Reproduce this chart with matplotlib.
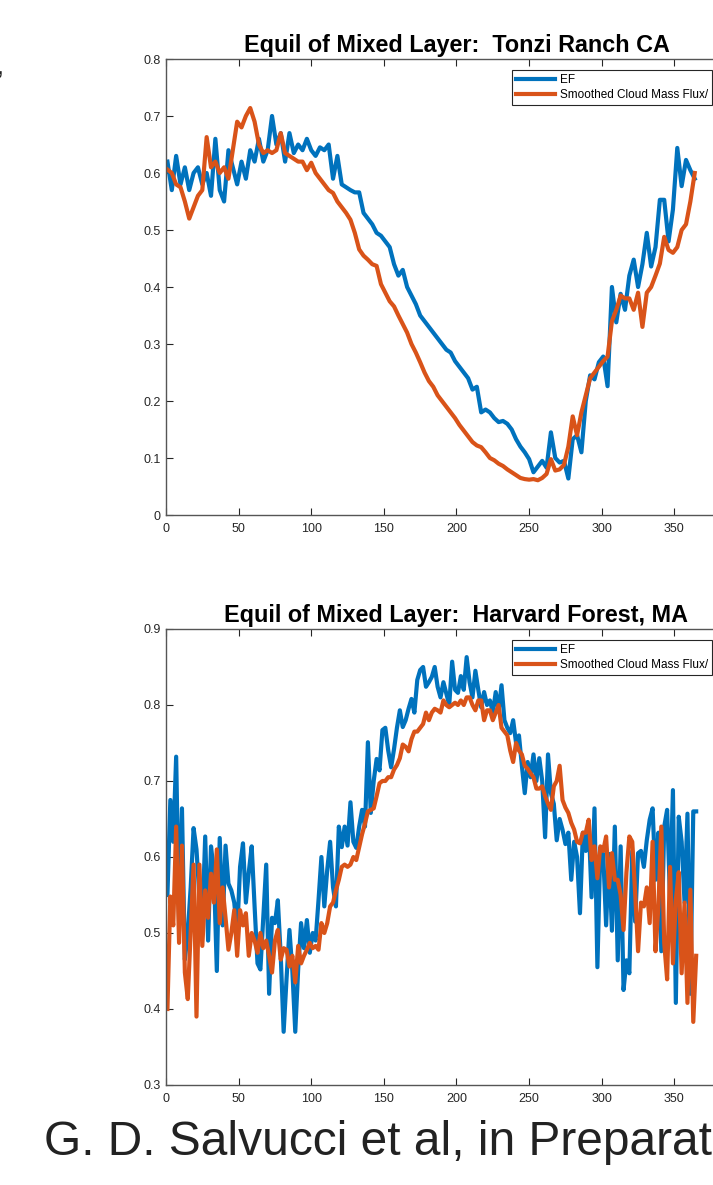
import numpy as np
import matplotlib
matplotlib.use("Agg")
import matplotlib.pyplot as plt
from matplotlib import font_manager

plt.rcParams['font.family'] = ['Liberation Sans', 'DejaVu Sans']

# Tonzi Ranch CA, every 3rd day starting day 1
tonzi_ef = [
    0.62, 0.57, 0.63, 0.58, 0.61, 0.57, 0.60, 0.61, 0.58, 0.60,
    0.56, 0.66, 0.57, 0.55, 0.64, 0.61, 0.58, 0.62, 0.59, 0.64,
    0.62, 0.66, 0.62, 0.64, 0.70, 0.65, 0.67, 0.62, 0.67, 0.635,
    0.65, 0.64, 0.66, 0.64, 0.63, 0.645, 0.64, 0.65, 0.59, 0.63,
    0.58, 0.575, 0.57, 0.566, 0.566, 0.53, 0.52, 0.51, 0.495, 0.49,
    0.48, 0.47, 0.44, 0.42, 0.43, 0.40, 0.385, 0.37, 0.35, 0.34,
    0.33, 0.32, 0.31, 0.30, 0.29, 0.285, 0.27, 0.26, 0.25, 0.24,
    0.22, 0.225, 0.18, 0.185, 0.18, 0.17, 0.163, 0.165, 0.16, 0.15,
    0.133, 0.12, 0.11, 0.098, 0.075, 0.085, 0.095, 0.083, 0.145, 0.10,
    0.092, 0.095, 0.064, 0.133, 0.14, 0.11, 0.20, 0.245, 0.238, 0.268,
    0.278, 0.226, 0.40, 0.338, 0.388, 0.36, 0.42, 0.448, 0.40, 0.44,
    0.495, 0.436, 0.47, 0.553, 0.553, 0.48, 0.536, 0.644, 0.577, 0.623,
    0.605, 0.59,
]
tonzi_cmf = [
    0.606, 0.60, 0.58, 0.575, 0.55, 0.52, 0.54, 0.56, 0.57, 0.663,
    0.61, 0.62, 0.60, 0.61, 0.59, 0.64, 0.69, 0.68, 0.70, 0.714,
    0.69, 0.65, 0.635, 0.64, 0.635, 0.64, 0.67, 0.635, 0.63, 0.625,
    0.62, 0.62, 0.605, 0.618, 0.60, 0.59, 0.58, 0.57, 0.565, 0.55,
    0.54, 0.53, 0.518, 0.495, 0.466, 0.455, 0.448, 0.44, 0.437, 0.405,
    0.39, 0.375, 0.366, 0.35, 0.335, 0.32, 0.30, 0.285, 0.268, 0.25,
    0.235, 0.225, 0.21, 0.20, 0.19, 0.18, 0.17, 0.158, 0.148, 0.138,
    0.128, 0.122, 0.119, 0.11, 0.10, 0.096, 0.09, 0.086, 0.08, 0.075,
    0.07, 0.065, 0.063, 0.062, 0.063, 0.061, 0.065, 0.072, 0.098, 0.078,
    0.08, 0.088, 0.12, 0.173, 0.14, 0.18, 0.21, 0.24, 0.25, 0.26,
    0.27, 0.278, 0.34, 0.36, 0.385, 0.38, 0.38, 0.36, 0.39, 0.33,
    0.39, 0.40, 0.42, 0.441, 0.488, 0.465, 0.46, 0.47, 0.50, 0.51,
    0.55, 0.60,
]

# Harvard Forest, MA, every 2nd day starting day 1
harvard_ef = [
    0.55, 0.675, 0.62, 0.732, 0.517, 0.664, 0.465, 0.50, 0.56, 0.638,
    0.61, 0.548, 0.513, 0.627, 0.49, 0.614, 0.58, 0.45, 0.625, 0.51,
    0.615, 0.565, 0.556, 0.54, 0.50, 0.587, 0.618, 0.54, 0.58, 0.614,
    0.535, 0.46, 0.452, 0.52, 0.59, 0.42, 0.52, 0.513, 0.543, 0.47,
    0.37, 0.44, 0.504, 0.45, 0.37, 0.452, 0.513, 0.48, 0.517, 0.474,
    0.50, 0.49, 0.543, 0.60, 0.535, 0.583, 0.62, 0.56, 0.535, 0.64,
    0.613, 0.64, 0.615, 0.672, 0.62, 0.612, 0.64, 0.662, 0.64, 0.751,
    0.658, 0.70, 0.729, 0.714, 0.767, 0.77, 0.74, 0.718, 0.742, 0.77,
    0.793, 0.771, 0.78, 0.795, 0.808, 0.79, 0.833, 0.846, 0.85, 0.824,
    0.83, 0.837, 0.85, 0.824, 0.81, 0.83, 0.815, 0.80, 0.857, 0.82,
    0.816, 0.838, 0.82, 0.863, 0.83, 0.81, 0.845, 0.82, 0.797, 0.817,
    0.80, 0.806, 0.79, 0.817, 0.793, 0.826, 0.78, 0.77, 0.763, 0.78,
    0.75, 0.76, 0.72, 0.684, 0.725, 0.705, 0.735, 0.70, 0.73, 0.70,
    0.626, 0.735, 0.684, 0.67, 0.622, 0.65, 0.636, 0.617, 0.632, 0.57,
    0.62, 0.60, 0.526, 0.632, 0.608, 0.645, 0.547, 0.664, 0.455, 0.61,
    0.604, 0.51, 0.604, 0.503, 0.64, 0.464, 0.614, 0.425, 0.464, 0.447,
    0.608, 0.515, 0.605, 0.608, 0.587, 0.622, 0.649, 0.664, 0.57, 0.632,
    0.476, 0.64, 0.662, 0.544, 0.688, 0.408, 0.653, 0.62, 0.54, 0.657,
    0.42, 0.66, 0.66,
]
harvard_cmf = [
    0.40, 0.548, 0.51, 0.64, 0.487, 0.615, 0.448, 0.413, 0.50, 0.59,
    0.39, 0.59, 0.483, 0.556, 0.52, 0.578, 0.54, 0.61, 0.513, 0.56,
    0.52, 0.478, 0.50, 0.53, 0.47, 0.53, 0.51, 0.526, 0.47, 0.50,
    0.49, 0.474, 0.50, 0.48, 0.49, 0.47, 0.448, 0.49, 0.504, 0.465,
    0.48, 0.478, 0.456, 0.47, 0.435, 0.483, 0.46, 0.47, 0.478, 0.487,
    0.48, 0.483, 0.478, 0.513, 0.50, 0.513, 0.535, 0.54, 0.556, 0.57,
    0.587, 0.59, 0.587, 0.59, 0.60, 0.596, 0.613, 0.63, 0.644, 0.66,
    0.662, 0.664, 0.68, 0.697, 0.70, 0.70, 0.705, 0.705, 0.715, 0.721,
    0.73, 0.748, 0.745, 0.739, 0.755, 0.765, 0.765, 0.77, 0.775, 0.79,
    0.78, 0.79, 0.795, 0.793, 0.79, 0.806, 0.80, 0.797, 0.80, 0.803,
    0.80, 0.806, 0.80, 0.81, 0.81, 0.80, 0.793, 0.806, 0.806, 0.78,
    0.793, 0.793, 0.78, 0.79, 0.80, 0.77, 0.765, 0.76, 0.74, 0.725,
    0.75, 0.74, 0.735, 0.72, 0.716, 0.71, 0.705, 0.69, 0.69, 0.693,
    0.68, 0.67, 0.662, 0.693, 0.70, 0.72, 0.675, 0.665, 0.658, 0.645,
    0.636, 0.62, 0.618, 0.632, 0.632, 0.649, 0.596, 0.614, 0.572, 0.614,
    0.608, 0.627, 0.56, 0.605, 0.57, 0.57, 0.55, 0.504, 0.58, 0.627,
    0.62, 0.553, 0.476, 0.54, 0.535, 0.56, 0.513, 0.62, 0.476, 0.535,
    0.64, 0.487, 0.439, 0.587, 0.46, 0.544, 0.58, 0.447, 0.54, 0.408,
    0.557, 0.383, 0.47,
]

tonzi_days = 1 + 3 * np.arange(len(tonzi_ef))
harvard_days = 1 + 2 * np.arange(len(harvard_ef))

titles = ["Equil of Mixed Layer:  Tonzi Ranch CA",
          "Equil of Mixed Layer:  Harvard Forest, MA"]
labels = ["EF", "Smoothed Cloud Mass Flux/"]
blue = "#0072BD"
orange = "#D95319"

fig = plt.figure(figsize=(7.13, 11.85), dpi=100)
ax1 = fig.add_axes([0.2328, 0.5654, 0.8149, 0.3848])
ax2 = fig.add_axes([0.2328, 0.0844, 0.8149, 0.3848])

panels = [
    (ax1, tonzi_days, tonzi_ef, tonzi_cmf, (0, 0.8), np.arange(0, 0.81, 0.1)),
    (ax2, harvard_days, harvard_ef, harvard_cmf, (0.3, 0.9), np.arange(0.3, 0.91, 0.1)),
]

for (ax, days, ef, cmf, ylim, yt), title in zip(panels, titles):
    ax.plot(days, ef, color=blue, lw=3.0, label=labels[0], solid_joinstyle='round')
    ax.plot(days, cmf, color=orange, lw=3.0, label=labels[1], solid_joinstyle='round')
    ax.set_xlim(0, 400)
    ax.set_ylim(*ylim)
    ax.set_xticks(np.arange(0, 351, 50))
    ax.set_yticks(yt)
    ax.set_yticklabels([f"{v:g}" for v in np.round(yt, 1)])
    ax.tick_params(direction='in', length=5, width=0.8, color='#262626',
                   labelsize=9, labelcolor='#262626', top=True, right=True)
    ax.tick_params(axis='x', pad=6)
    ax.tick_params(axis='y', pad=4)
    for sp in ax.spines.values():
        sp.set_color('#555555')
        sp.set_linewidth(1.0)
    ax.set_title(title, fontsize=16.8, fontweight='bold', pad=5)
    leg = ax.legend(loc='upper left', bbox_to_anchor=(0.5955, 0.976),
                    borderaxespad=0, fontsize=8.5, handlelength=3.3,
                    handletextpad=0.4, borderpad=0.35, labelspacing=0.25,
                    fancybox=False, framealpha=1)
    leg.get_frame().set_edgecolor('#262626')
    leg.get_frame().set_linewidth(0.8)

# condensed face for the citation line if it is installed
names = {f.name for f in font_manager.fontManager.ttflist}
if 'Liberation Sans Narrow' in names:
    cap_family, cap_size = ['Liberation Sans Narrow', 'Liberation Sans'], 38
else:
    cap_family, cap_size = ['Liberation Sans', 'DejaVu Sans'], 34.5

fig.text(-0.004, 1 - 74 / 1185, ",", fontsize=18, color='#222222')
fig.text(44 / 713, 1 - 1155 / 1185, "G. D. Salvucci et al, in Preparation",
         fontsize=cap_size, family=cap_family, color='#222222',
         va='baseline', ha='left')

fig.savefig("out.png", dpi=100)
